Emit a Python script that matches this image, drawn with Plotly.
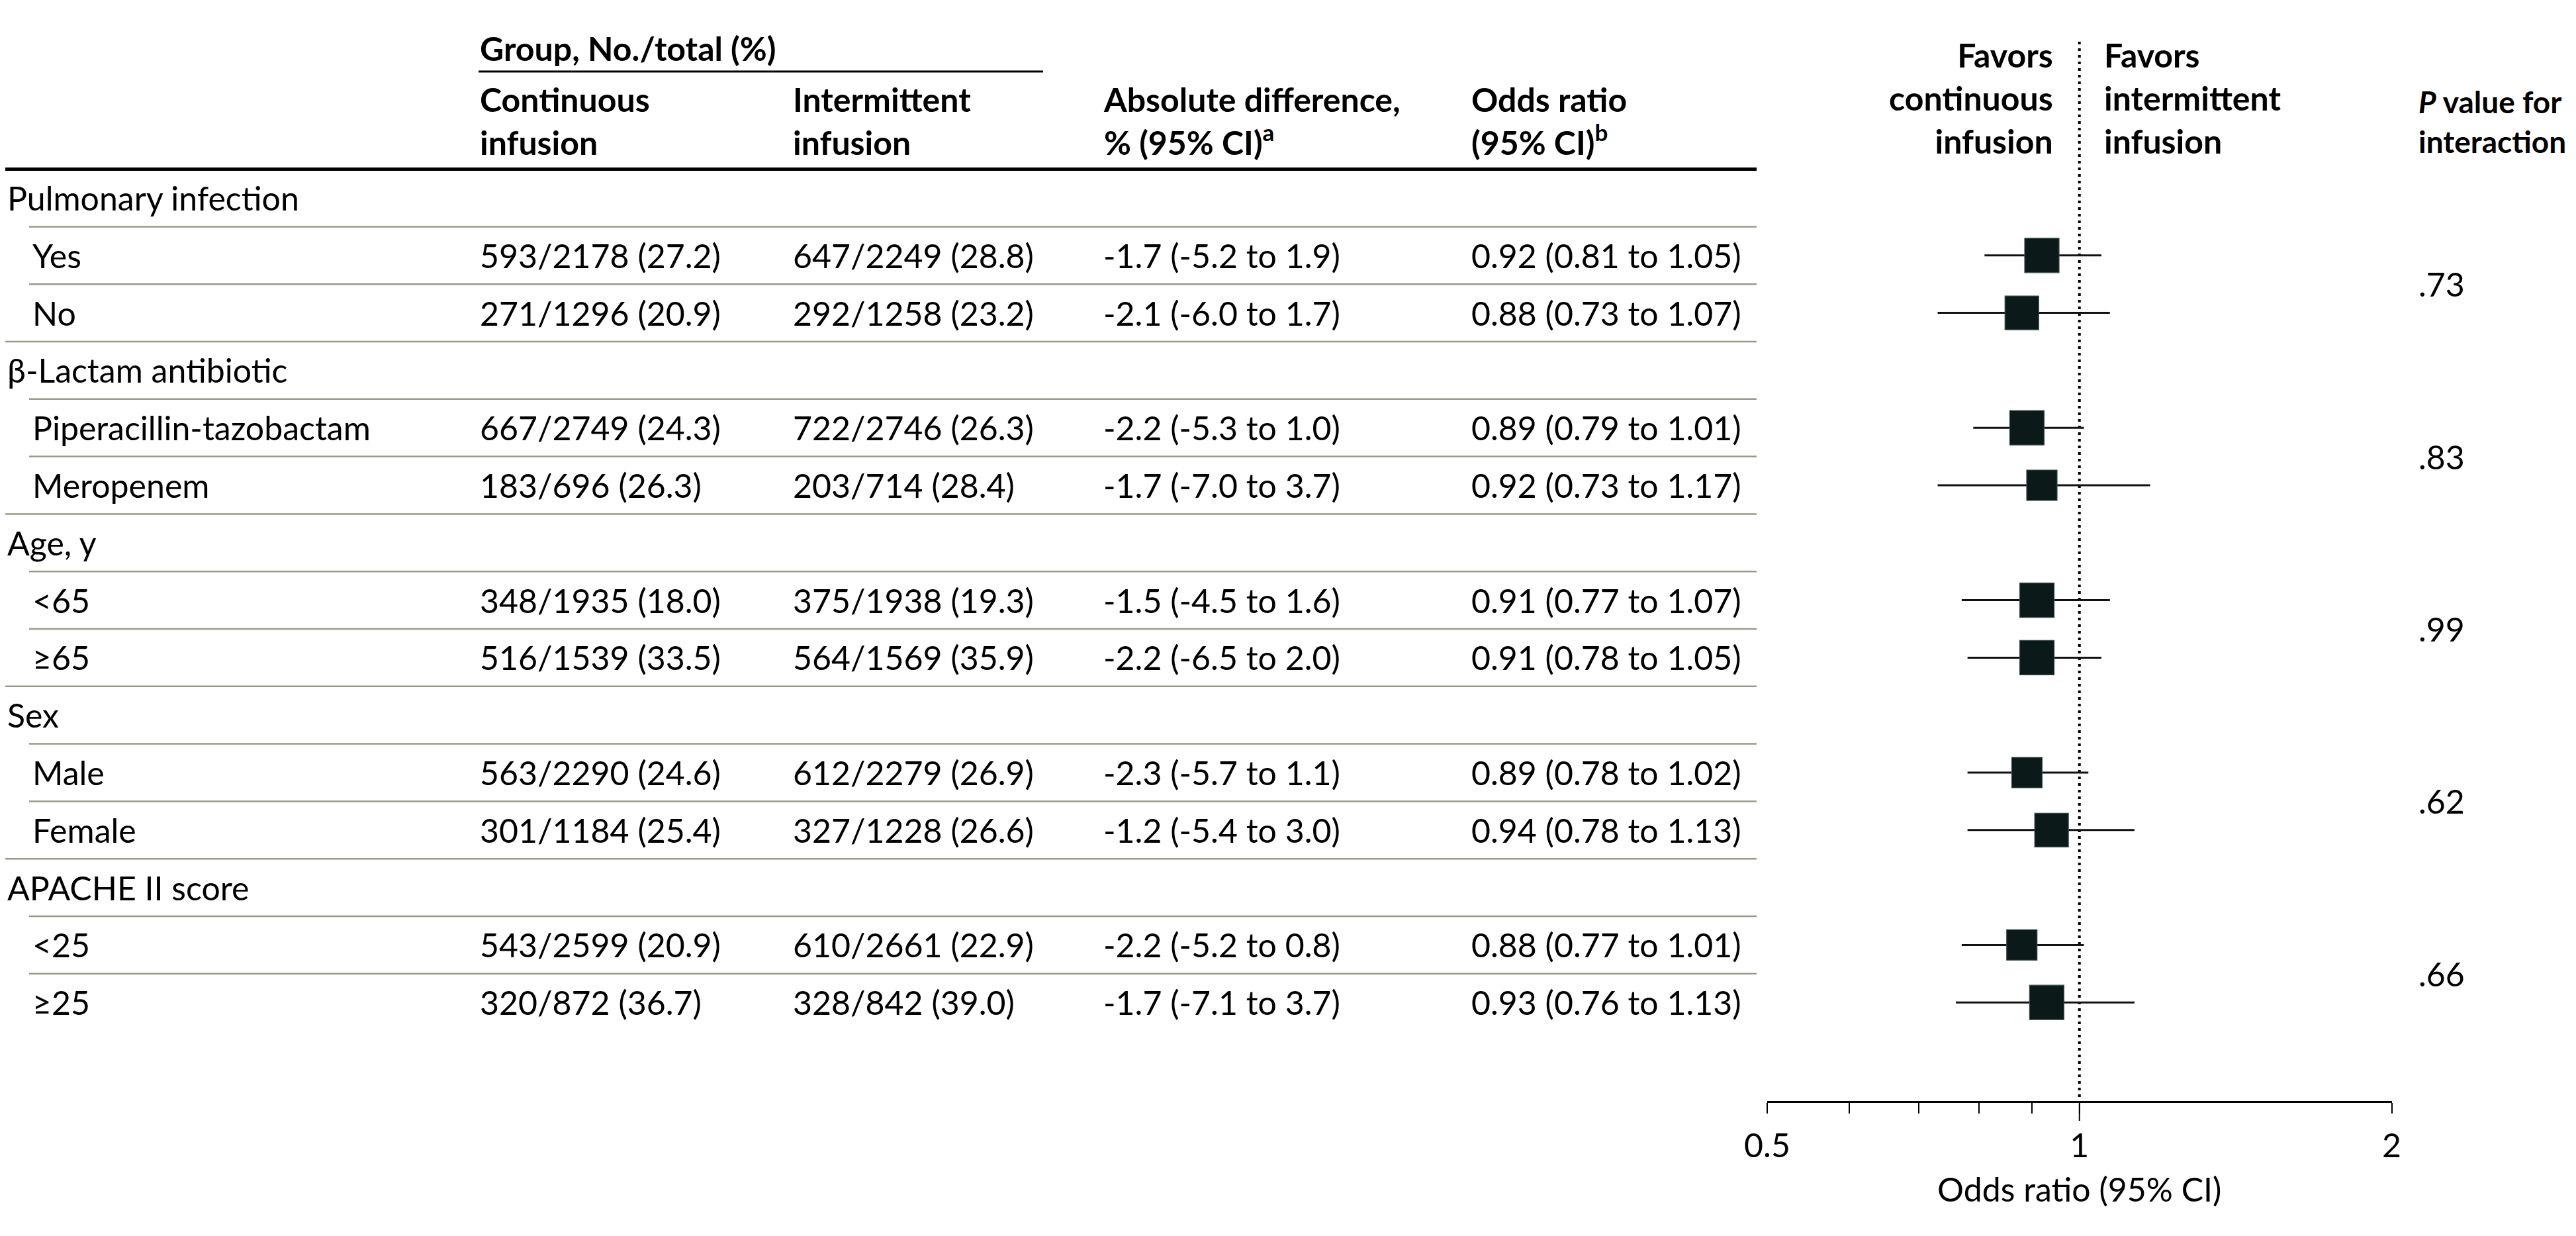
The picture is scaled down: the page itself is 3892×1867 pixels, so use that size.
import math
import plotly.graph_objects as go

# ---------------- data ----------------
groups = ["Pulmonary infection", "β-Lactam antibiotic", "Age, y", "Sex", "APACHE II score"]
subgroups = [["Yes", "No"], ["Piperacillin-tazobactam", "Meropenem"], ["<65", "≥65"],
             ["Male", "Female"], ["<25", "≥25"]]
continuous = ["593/2178 (27.2)", "271/1296 (20.9)", "667/2749 (24.3)", "183/696 (26.3)",
              "348/1935 (18.0)", "516/1539 (33.5)", "563/2290 (24.6)", "301/1184 (25.4)",
              "543/2599 (20.9)", "320/872 (36.7)"]
intermittent = ["647/2249 (28.8)", "292/1258 (23.2)", "722/2746 (26.3)", "203/714 (28.4)",
                "375/1938 (19.3)", "564/1569 (35.9)", "612/2279 (26.9)", "327/1228 (26.6)",
                "610/2661 (22.9)", "328/842 (39.0)"]
abs_diff = ["-1.7 (-5.2 to 1.9)", "-2.1 (-6.0 to 1.7)", "-2.2 (-5.3 to 1.0)", "-1.7 (-7.0 to 3.7)",
            "-1.5 (-4.5 to 1.6)", "-2.2 (-6.5 to 2.0)", "-2.3 (-5.7 to 1.1)", "-1.2 (-5.4 to 3.0)",
            "-2.2 (-5.2 to 0.8)", "-1.7 (-7.1 to 3.7)"]
or_est = [0.92, 0.88, 0.89, 0.92, 0.91, 0.91, 0.89, 0.94, 0.88, 0.93]
or_lo = [0.81, 0.73, 0.79, 0.73, 0.77, 0.78, 0.78, 0.78, 0.77, 0.76]
or_hi = [1.05, 1.07, 1.01, 1.17, 1.07, 1.05, 1.02, 1.13, 1.01, 1.13]
p_interaction = [".73", ".83", ".99", ".62", ".66"]
major_ticks = [0.5, 1, 2]
major_ticktext = ["0.5", "1", "2"]
minor_ticks = [0.6, 0.7, 0.8, 0.9]

# ---------------- style / layout ----------------
PAGE_W, PAGE_H = 3892, 1867
OFF = 8                                   # default body margin of the html page
W, H = PAGE_W - 2 * OFF, PAGE_H - 2 * OFF  # figure size so the page does not overflow
FONT = "Lato, 'Open Sans', sans-serif"
FS = 50
ROW0_PX, ROW_PX = 299.0, 86.8             # page pixel centre of first row, row pitch
AXIS_PX = 1663.0                          # page pixel of x axis line
marker_sizes = [52, 51, 52, 46, 52, 52, 46, 51, 46, 52]
SEP_COLOR = "#959d85"
INK = "#000000"


def px_to_row(p):
    return (p - ROW0_PX) / ROW_PX


def xp(p):
    return (p - OFF) / W


def yp(p):
    return 1 - (p - OFF) / H


def esc(s):
    return s.replace("<", "&lt;").replace(">", "&gt;")


COL_LABEL, COL_SUB = 9, 47
COL_CONT, COL_INT, COL_ABS, COL_OR, COL_P = 723, 1196, 1665, 2221, 3652
TABLE_START, TABLE_END = 8, 2654

# row indices
head_rows, sub_rows = [], []
r = 0
for g, subs in zip(groups, subgroups):
    head_rows.append(r)
    r += 1
    rows = []
    for _ in subs:
        rows.append(r)
        r += 1
    sub_rows.append(rows)
flat_rows = [i for rows in sub_rows for i in rows]
flat_labels = [s for subs in subgroups for s in subs]

annotations = []
shapes = []


def ann(x_px, y_row, text, anchor="left", bold=False, size=FS, align="left"):
    annotations.append(dict(
        x=xp(x_px), xref="paper", y=y_row, yref="y", text=text,
        xanchor=anchor, yanchor="middle", align=align, showarrow=False,
        font=dict(family=FONT, size=size, color=INK, weight="bold" if bold else "normal")))


# headers
ann(COL_CONT, px_to_row(73), "Group, No./total (%)", bold=True)
ann(COL_CONT, px_to_row(182), "Continuous<br>infusion", bold=True)
ann(COL_INT, px_to_row(182), "Intermittent<br>infusion", bold=True)
ann(COL_ABS, px_to_row(182), "Absolute difference,<br>% (95% CI)<sup>a</sup>", bold=True)
ann(COL_OR, px_to_row(182), "Odds ratio<br>(95% CI)<sup>b</sup>", bold=True)
ann(3104, px_to_row(148), "Favors<br>continuous<br>infusion", anchor="right", bold=True, align="right")
ann(3177, px_to_row(148), "Favors<br>intermittent<br>infusion", bold=True)
ann(COL_P, px_to_row(183), "<i>P</i> value for<br>interaction", bold=True, size=46)

# group headings
for g, i in zip(groups, head_rows):
    ann(COL_LABEL, i, esc(g))
# subgroup rows
for k, i in enumerate(flat_rows):
    ann(COL_SUB, i, esc(flat_labels[k]))
    ann(COL_CONT, i, continuous[k])
    ann(COL_INT, i, intermittent[k])
    ann(COL_ABS, i, abs_diff[k])
    ann(COL_OR, i, f"{or_est[k]:.2f} ({or_lo[k]:.2f} to {or_hi[k]:.2f})")
# p values between the two subgroup rows
for p, rows in zip(p_interaction, sub_rows):
    ann(COL_P, sum(rows) / len(rows), p)

# rules
shapes.append(dict(type="line", xref="paper", yref="y", x0=xp(COL_CONT), x1=xp(1576),
                   y0=px_to_row(108), y1=px_to_row(108), line=dict(color=INK, width=3)))
shapes.append(dict(type="line", xref="paper", yref="y", x0=xp(TABLE_START), x1=xp(TABLE_END),
                   y0=-0.5, y1=-0.5, line=dict(color=INK, width=5)))
for k, i in enumerate(head_rows):
    if k > 0:
        shapes.append(dict(type="line", xref="paper", yref="y", x0=xp(TABLE_START), x1=xp(TABLE_END),
                           y0=i - 0.5, y1=i - 0.5, line=dict(color=SEP_COLOR, width=2.5)))
for i in flat_rows:
    shapes.append(dict(type="line", xref="paper", yref="y", x0=xp(44), x1=xp(TABLE_END),
                       y0=i - 0.5, y1=i - 0.5, line=dict(color=SEP_COLOR, width=2.5)))

# reference line at OR = 1 (dotted) and the longer tick at 1
shapes.append(dict(type="line", xref="x", yref="paper", x0=1, x1=1, y0=yp(63), y1=yp(1657),
                   line=dict(color=INK, width=4, dash="4px,6px"), layer="below"))
shapes.append(dict(type="line", xref="x", yref="paper", x0=1, x1=1, y0=yp(AXIS_PX), y1=yp(AXIS_PX + 30),
                   line=dict(color=INK, width=2)))

fig = go.Figure()
fig.add_trace(go.Scatter(
    x=or_est, y=flat_rows, mode="markers",
    marker=dict(symbol="square", size=marker_sizes, color="#0b1a18", opacity=1,
                line=dict(color="#34504d", width=1.2)),
    error_x=dict(type="data", symmetric=False,
                 array=[h - e for h, e in zip(or_hi, or_est)],
                 arrayminus=[e - l for e, l in zip(or_est, or_lo)],
                 thickness=3, width=0, color="#111111"),
    showlegend=False, hoverinfo="skip"))

y_top = px_to_row(OFF)
y_bot = px_to_row(AXIS_PX)
fig.update_layout(
    width=W, height=H, margin=dict(l=0, r=0, t=0, b=0, pad=0),
    paper_bgcolor="white", plot_bgcolor="white", template="none",
    font=dict(family=FONT, size=FS, color=INK),
    showlegend=False,
    annotations=annotations, shapes=shapes,
    xaxis=dict(type="log", range=[math.log10(0.5), math.log10(2)],
               domain=[xp(2670), xp(3613.5)], anchor="y",
               showline=True, linecolor=INK, linewidth=3, mirror=False,
               showgrid=False, zeroline=False,
               ticks="outside", ticklen=16, tickwidth=2, tickcolor=INK,
               tickmode="array", tickvals=major_ticks, ticktext=major_ticktext,
               minor=dict(tickmode="array", tickvals=minor_ticks, ticks="outside",
                          ticklen=16, tickwidth=2, tickcolor=INK, showgrid=False),
               tickfont=dict(family=FONT, size=FS, color=INK),
               ticklabelstandoff=6, automargin=False,
               title=dict(text="Odds ratio (95% CI)", font=dict(family=FONT, size=FS, color=INK),
                          standoff=22)),
    yaxis=dict(range=[y_bot, y_top], domain=[yp(AXIS_PX), 1], visible=False,
               showgrid=False, zeroline=False, automargin=False),
)

fig.write_html("out.html")
